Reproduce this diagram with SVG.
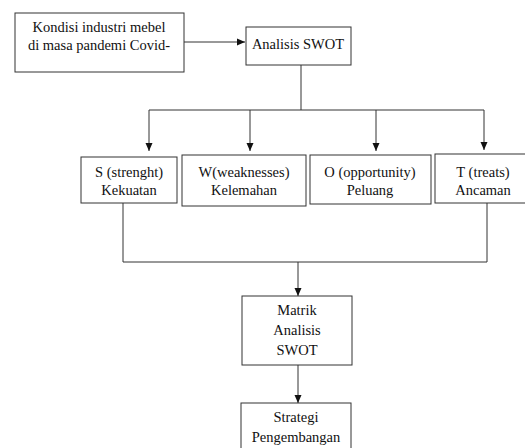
<svg xmlns="http://www.w3.org/2000/svg" width="525" height="448" viewBox="0 0 525 448" font-family="'Liberation Serif', 'Times New Roman', 'DejaVu Serif', serif" font-size="14.5">
<style>
.box{fill:#fff;stroke:#333;stroke-width:1}
.ln{fill:none;stroke:#333;stroke-width:1}
.t{font-family:'Liberation Serif','Times New Roman','DejaVu Serif',serif;font-size:14.5px;fill:#111;text-anchor:middle}
</style>
<defs>
<marker id="ah" viewBox="0 0 8 8" refX="8" refY="4" markerWidth="8" markerHeight="8" markerUnits="userSpaceOnUse" orient="auto">
<path d="M0,0.5 L8,4 L0,7.5 Z" fill="#111"/>
</marker>
</defs>
<rect width="525" height="448" fill="#fff"/>
<g id="connectors">
<line class="ln" x1="184" y1="42" x2="245" y2="42" marker-end="url(#ah)"/>
<line class="ln" x1="301" y1="65" x2="301" y2="110"/>
<line class="ln" x1="149" y1="110" x2="484" y2="110"/>
<line class="ln" x1="149" y1="110" x2="149" y2="151" marker-end="url(#ah)"/>
<line class="ln" x1="250" y1="110" x2="250" y2="151" marker-end="url(#ah)"/>
<line class="ln" x1="376" y1="110" x2="376" y2="151" marker-end="url(#ah)"/>
<line class="ln" x1="484" y1="110" x2="484" y2="150" marker-end="url(#ah)"/>
<path class="ln" d="M123,203 V262 H487 V203"/>
<line class="ln" x1="298" y1="262" x2="298" y2="296" marker-end="url(#ah)"/>
<line class="ln" x1="298" y1="365" x2="298" y2="403" marker-end="url(#ah)"/>
</g>
<g id="kondisi">
<rect class="box" x="15" y="13" width="169" height="59"/>
<text class="t" x="99" y="32">Kondisi industri mebel</text>
<text class="t" x="99" y="50">di masa pandemi Covid-</text>
</g>
<g id="analisis">
<rect class="box" x="246" y="27" width="105" height="38"/>
<text class="t" x="298" y="49">Analisis SWOT</text>
</g>
<g id="s">
<rect class="box" x="81" y="157" width="96" height="46"/>
<text class="t" x="129" y="177">S (strenght)</text>
<text class="t" x="129" y="195">Kekuatan</text>
</g>
<g id="w">
<rect class="box" x="182" y="155" width="124" height="51"/>
<text class="t" x="244" y="177">W(weaknesses)</text>
<text class="t" x="244" y="195">Kelemahan</text>
</g>
<g id="o">
<rect class="box" x="310" y="155" width="121" height="49"/>
<text class="t" x="370" y="177">O (opportunity)</text>
<text class="t" x="370" y="195">Peluang</text>
</g>
<g id="t">
<rect class="box" x="435" y="154" width="96" height="49"/>
<text class="t" x="483" y="177">T (treats)</text>
<text class="t" x="483" y="195">Ancaman</text>
</g>
<g id="matrik">
<rect class="box" x="242" y="296" width="110" height="69"/>
<text class="t" x="297" y="315">Matrik</text>
<text class="t" x="297" y="335">Analisis</text>
<text class="t" x="297" y="355">SWOT</text>
</g>
<g id="strategi">
<rect class="box" x="241" y="403" width="110" height="60"/>
<text class="t" x="296" y="422">Strategi</text>
<text class="t" x="296" y="442">Pengembangan</text>
</g>
</svg>
